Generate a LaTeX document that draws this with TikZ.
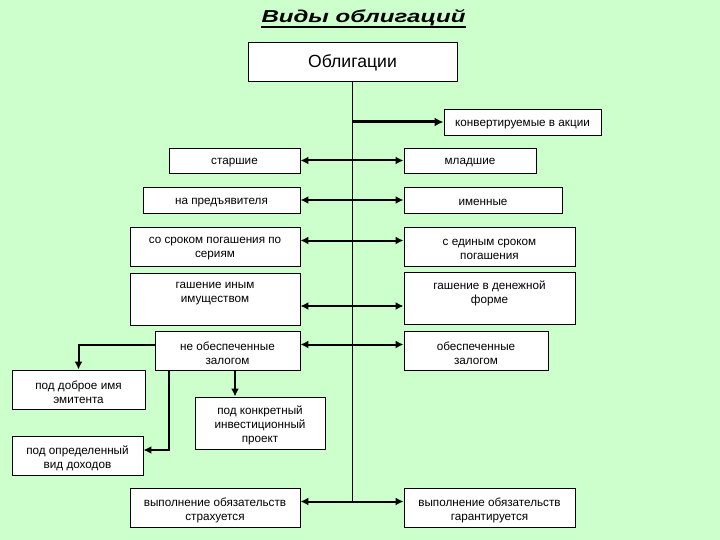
\documentclass[tikz,border=0pt]{standalone}
\usepackage{fontspec}
\usepackage{graphicx}
\setmainfont{Liberation Sans}
\usetikzlibrary{arrows.meta}
\definecolor{bg}{HTML}{CCFFCC}
\newcommand{\bx}[6]{%
  \node[box, minimum width=#4, minimum height=#5] (#1) at (#2,#3) {};
  \node[lbl] (#1-t) at ([yshift=-2.5pt]#1.center) {#6};}
\begin{document}
\begin{tikzpicture}[x=1pt,y=-1pt,
  box/.style={draw=black, line width=0.9pt, fill=white, inner sep=0pt},
  lbl/.style={align=center, inner sep=0pt, font=\fontsize{11.7}{14}\selectfont},
  dbl/.style={line width=2pt, {Latex[length=8pt,width=8pt]}-{Latex[length=8pt,width=8pt]}},
  sgl/.style={line width=2pt, -{Latex[length=8pt,width=8pt]}},
  thin/.style={line width=1pt}]
\fill[bg] (0,0) rectangle (720,540);
\useasboundingbox (0,0) rectangle (720,540);
\node[font=\fontsize{17.3}{19}\selectfont\bfseries\itshape, anchor=base, inner sep=0pt] (title) at (363.5,22.7) {\scalebox{1.39}[1]{Виды облигаций}};
\draw[line width=1.8pt] ([yshift=-4.3pt]title.base west) -- ([yshift=-4.3pt]title.base east);
\node[box, minimum width=209, minimum height=39] (obl) at (352.5,61.5) {};
\node[lbl, font=\fontsize{17.6}{20}\selectfont] (obl-t) at ([yshift=-1.5pt]obl.center) {Облигации};
\bx{konv}{522.5}{122}{157}{26}{конвертируемые в акции}
\bx{star}{234.5}{160.5}{131}{25}{старшие}
\bx{mlad}{470}{160.5}{132}{25}{младшие}
\bx{pred}{221.5}{200}{157}{26}{на предъявителя}
\bx{imen}{483}{200}{158}{26}{именные}
\bx{ser}{215}{246.5}{170}{39}{со сроком погашения по\\сериям}
\bx{edin}{489.5}{246.5}{171}{39}{с единым сроком\\погашения}
\node[box, minimum width=170, minimum height=52] (inym) at (215,299) {};
\node[box, minimum width=171, minimum height=52] (den) at (489.5,298) {};
\node[lbl] (inym-t) at (215,294) {гашение иным\\имуществом};
\node[lbl] (den-t) at (489.5,293) {гашение в денежной\\форме};
\bx{neob}{227.5}{350.5}{145}{39}{не обеспеченные\\залогом}
\bx{obes}{476}{350.5}{144}{39}{обеспеченные\\залогом}
\bx{dobr}{78.5}{389.5}{133}{39}{под доброе имя\\эмитента}
\bx{konk}{260}{423}{130}{52}{под конкретный\\инвестиционный\\проект}
\bx{dohod}{77.5}{455.5}{131}{39}{под определенный\\вид доходов}
\bx{strah}{215}{507.5}{170}{39}{выполнение обязательств\\страхуется}
\bx{garant}{489.5}{507.5}{171}{39}{выполнение обязательств\\гарантируется}
% coordinates
\coordinate (c1) at ([yshift=6pt]ser.east);
\coordinate (c2) at ([yshift=-7pt]inym.east);
\coordinate (c3) at ([yshift=6pt]neob.east);
\coordinate (c4) at ([yshift=6pt]strah.east);
\coordinate (c5) at ([yshift=6pt]neob.west);
\coordinate (c6) at ([xshift=7.5pt]neob.south);
\coordinate (c7) at ([xshift=-58.5pt]neob.south);
\coordinate (c8) at ([yshift=5.5pt]dohod.east);
% spine
\draw[thin] (obl.south) -- (obl.south |- c4);
\draw[line width=3pt, -{Latex[length=9pt,width=9pt]}] (obl.south |- konv.west) -- (konv.west);
\draw[dbl] (star.east) -- (mlad.west);
\draw[dbl] (pred.east) -- (imen.west);
\draw[dbl] (c1) -- (c1 -| edin.west);
\draw[dbl] (c2) -- (c2 -| den.west);
\draw[dbl] (c3) -- (c3 -| obes.west);
\draw[dbl] (c4) -- (c4 -| garant.west);
\draw[sgl] (c5) -| (dobr.north);
\draw[sgl] (c6) -- (c6 |- konk.north);
\draw[sgl] (c7) |- (c8);
\end{tikzpicture}
\end{document}
